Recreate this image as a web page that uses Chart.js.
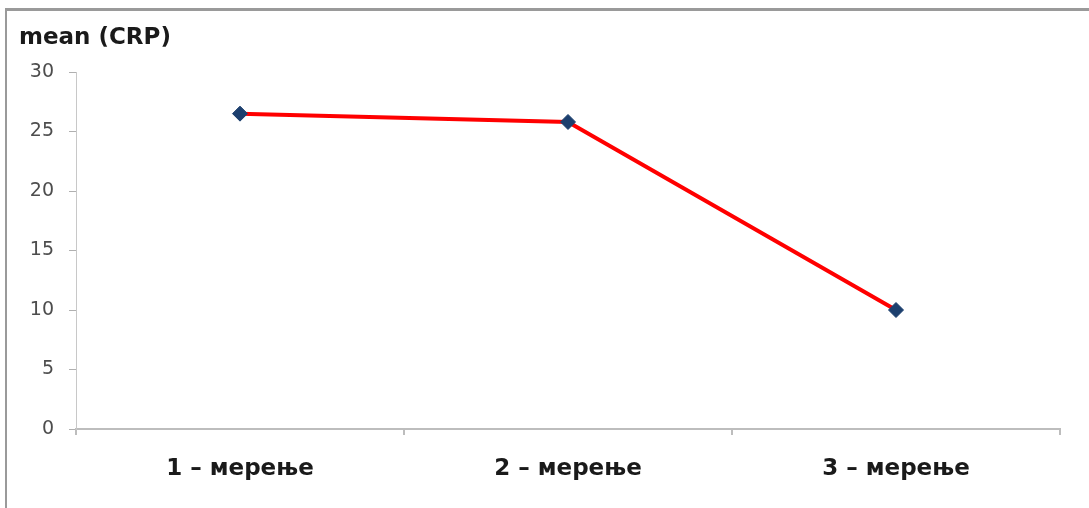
<!DOCTYPE html>
<html>
<head>
<meta charset="utf-8">
<script src="https://cdn.jsdelivr.net/npm/chart.js@4/dist/chart.umd.min.js"></script>
<style>
  html, body { margin: 0; padding: 0; background: #fff; }
  #wrap { position: relative; width: 1089px; height: 508px; }
</style>
</head>
<body>
<div id="wrap"><canvas id="c" width="1089" height="508"></canvas></div>
<script>
// Mean CRP at each of the three measurements
const categories = ['1 – мерење', '2 – мерење', '3 – мерење'];
const meanCRP = [26.5, 25.8, 10.0];
const yTicks = [0, 5, 10, 15, 20, 25, 30];
const chartTitle = 'mean (CRP)';

// Frame lines and the heading above the value axis
const framePlugin = {
  id: 'frame',
  beforeDraw(chart) {
    const ctx = chart.ctx;
    ctx.save();
    ctx.fillStyle = '#fff';
    ctx.fillRect(0, 0, chart.width, chart.height);
    ctx.fillStyle = '#9a9a9a';
    ctx.fillRect(5, 8, chart.width - 5, 3);
    ctx.fillRect(5, 8, 2, chart.height - 8);
    ctx.fillStyle = '#1a1a1a';
    ctx.font = 'bold 23px "DejaVu Sans"';
    ctx.textBaseline = 'alphabetic';
    ctx.textAlign = 'left';
    ctx.fillText(chartTitle, 19, 44);
    ctx.restore();
  }
};

new Chart(document.getElementById('c'), {
  type: 'line',
  data: {
    labels: categories,
    datasets: [{
      data: meanCRP,
      borderColor: '#ff0000',
      borderWidth: 4,
      tension: 0,
      pointStyle: 'rectRot',
      pointRadius: 7.5,
      pointHoverRadius: 7.5,
      pointBackgroundColor: '#1c3f6e',
      pointBorderColor: '#1c3f6e',
      pointBorderWidth: 1
    }]
  },
  options: {
    responsive: false,
    animation: false,
    devicePixelRatio: 1,
    layout: { padding: { left: 0, right: 29, top: 72, bottom: 0 } },
    plugins: {
      legend: { display: false },
      title: { display: false },
      tooltip: { enabled: false }
    },
    scales: {
      x: {
        offset: true,
        grid: {
          offset: true,
          drawOnChartArea: false,
          drawTicks: true,
          tickLength: 6,
          color: '#bdbdbd',
          lineWidth: 2
        },
        border: { display: true, color: '#bdbdbd', width: 2 },
        ticks: {
          padding: 20,
          color: '#1a1a1a',
          font: { family: '"DejaVu Sans"', size: 23, weight: 'bold' }
        },
        afterFit(scale) { scale.height = 79; }
      },
      y: {
        min: 0,
        max: 30,
        afterBuildTicks(scale) { scale.ticks = yTicks.map(v => ({ value: v })); },
        grid: {
          drawOnChartArea: false,
          drawTicks: true,
          tickLength: 7,
          color: '#b0b0b0',
          lineWidth: 1
        },
        border: { display: true, color: '#c8c8c8', width: 1, dash: [2, 2] },
        ticks: {
          padding: 15,
          color: '#4d4d4d',
          font: { family: '"DejaVu Sans"', size: 19 }
        },
        afterFit(scale) { scale.width = 76; }
      }
    }
  },
  plugins: [framePlugin]
});
</script>
</body>
</html>
